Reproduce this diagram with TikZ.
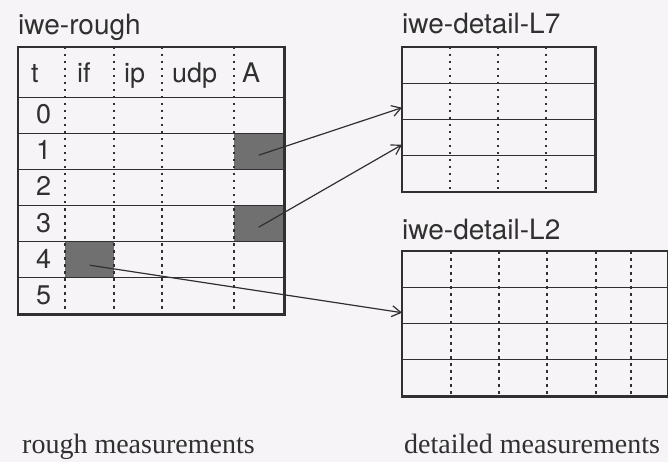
\documentclass[tikz,border=0pt]{standalone}
\usepackage{fontspec}
\usepackage{tikz}
\usetikzlibrary{arrows.meta}
\newfontfamily\labelfont{TeX Gyre Heros}
\newfontfamily\notefont{Liberation Serif}
\definecolor{PaperTone}{RGB}{246,244,246}
\definecolor{InkGray}{RGB}{48,48,48}
\definecolor{HitGray}{RGB}{112,112,112}
\tikzset{
  row/.style={
    draw=InkGray,
    line width=1.4pt,
    inner sep=0pt,
    minimum height=36pt
  },
  frame/.style={draw=InkGray,line width=2.2pt},
  sep/.style={draw=InkGray,line width=1.3pt,dash pattern=on 2.5pt off 4.5pt},
  hit/.style={fill=HitGray,draw=none,inner sep=0pt,minimum width=49pt,minimum height=36pt},
  cell/.style={font=\labelfont\fontsize{27}{30}\selectfont,text=InkGray,inner sep=0pt,anchor=base west},
  tabtitle/.style={font=\labelfont\fontsize{28}{30}\selectfont,text=InkGray,inner sep=0pt,anchor=base west},
  caption/.style={font=\notefont\fontsize{28}{30}\selectfont,text=InkGray,inner sep=0pt,anchor=base west},
  arrow/.style={-{Straight Barb[length=9pt,width=11pt]},line width=1.2pt,draw=InkGray}
}

\begin{document}
\begin{tikzpicture}[x=1pt,y=-1pt]

\fill[PaperTone] (0,0) rectangle (668,462);
\useasboundingbox (0,0) rectangle (668,462);

% marked cells, under the grid
\node[hit,anchor=north west] (hitA1) at (234,133) {};
\node[hit,anchor=north west] (hitA3) at (234,205) {};
\node[hit,anchor=north west] (hitIf4) at (65,241) {};

% rough table
\node[tabtitle] (roughTitle) at (18,35) {iwe-rough};
\node[row,minimum width=265pt,minimum height=50pt,anchor=north west] (rough-h) at (18,47) {};
\foreach \r in {0,...,5}
  \node[row,minimum width=265pt,anchor=north west] (rough-\r) at (18,97+36*\r) {};
\foreach \x in {65,114,162,234}
  \draw[sep] (\x,47) -- (\x,313);
\draw[frame] (rough-h.north west) rectangle (rough-5.south east);

\node[cell] (head-t) at (31,83) {t};
\node[cell] (head-if) at (77,83) {if};
\node[cell] (head-ip) at (124,83) {ip};
\node[cell] (head-udp) at (172,83) {udp};
\node[cell] (head-A) at (242,83) {A};
\foreach \r in {0,...,5}
  \node[cell] (tick-\r) at (36,124+36*\r) {\r};

% detailed table, L7
\node[tabtitle] (L7Title) at (402,34) {iwe-detail-L7};
\foreach \r in {1,...,4}
  \node[row,minimum width=192pt,anchor=north west] (L7-\r) at (402,11+36*\r) {};
\foreach \x in {450,498,546}
  \draw[sep] (\x,47) -- (\x,191);
\draw[frame] (L7-1.north west) rectangle (L7-4.south east);

% detailed table, L2
\node[tabtitle] (L2Title) at (402,239) {iwe-detail-L2};
\foreach \r in {1,...,4}
  \node[row,minimum width=265pt,anchor=north west] (L2-\r) at (402,215+36*\r) {};
\foreach \x in {451,499,547,596,631}
  \draw[sep] (\x,251) -- (\x,395);
\draw[frame] (L2-1.north west) rectangle (L2-4.south east);

\draw[arrow] ([yshift=-4pt]hitA1.center) -- ([yshift=-6pt]L7-2.west);
\draw[arrow] ([yshift=-4pt]hitA3.center) -- ([yshift=-7pt]L7-3.west);
\draw[arrow] ([yshift=-6pt]hitIf4.center) -- ([yshift=-7pt]L2-2.west);

\node[caption] (roughNote) at (22,453) {rough measurements};
\node[caption] (detailNote) at (404,453) {detailed measurements};

\end{tikzpicture}
\end{document}
